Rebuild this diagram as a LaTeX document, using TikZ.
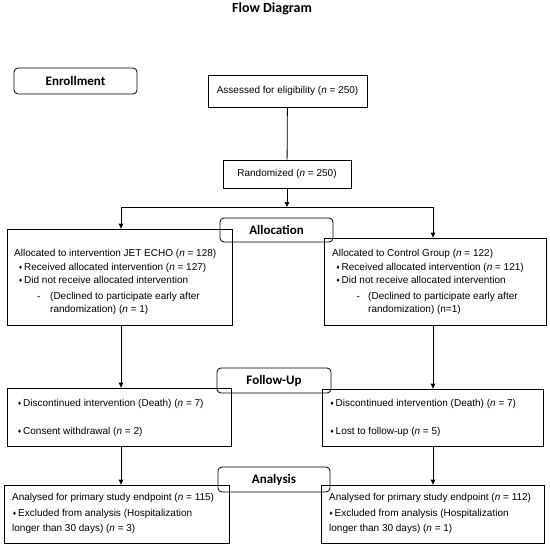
\documentclass[tikz,border=0pt]{standalone}
\usepackage{fontspec}
\setmainfont{Liberation Sans}
\newfontfamily\labfont{Carlito}
\newfontfamily\symfont{DejaVu Sans}
\usetikzlibrary{arrows.meta}
\newcommand\bul{\raisebox{1pt}{\fontsize{5}{5}\symfont ♦}}
\newcommand\bt{\makebox[7pt][c]{\bul}}
\begin{document}
\begin{tikzpicture}[x=1pt,y=-1pt,
  box/.style={draw,line width=0.8pt,inner sep=0pt,font=\fontsize{10}{12}\selectfont},
  lab/.style={draw,line width=0.8pt,rounded corners=4pt,inner sep=0pt,font=\labfont\bfseries\fontsize{13}{15}\selectfont},
  txt/.style={anchor=base west,inner sep=0pt,font=\fontsize{10}{12}\selectfont},
  arr/.style={line width=0.8pt,-{Triangle[length=5pt,width=4.5pt]}},
  con/.style={line width=0.8pt}]
\useasboundingbox (0,0) rectangle (550,546);
\node[font=\labfont\bfseries\fontsize{14}{16}\selectfont] (title) at (272,9) {Flow Diagram};
\node[lab,minimum width=123pt,minimum height=26pt] (enr) at (75.5,81) {Enrollment};
\node[box,minimum width=159pt,minimum height=32pt] (assess) at (287.5,91) {Assessed for eligibility (\textit{n} = 250)};
\node[box,minimum width=128pt,minimum height=28pt] (rand) at (287,174) {Randomized (\textit{n} = 250)};
\node[lab,minimum width=113pt,minimum height=24pt] (alloc) at (276.5,230) {Allocation};
\node[box,minimum width=225pt,minimum height=96pt] (lalloc) at (119.5,277) {};
\node[box,minimum width=222pt,minimum height=87pt] (ralloc) at (435,281.5) {};
\node[lab,minimum width=114pt,minimum height=25pt] (fu) at (274,380.5) {Follow-Up};
\node[box,minimum width=224pt,minimum height=58pt] (lfu) at (119,417) {};
\node[box,minimum width=221pt,minimum height=57pt] (rfu) at (432.5,417.5) {};
\node[lab,minimum width=112pt,minimum height=25pt] (ana) at (274,479.5) {Analysis};
\node[box,minimum width=225pt,minimum height=58pt] (lana) at (116.5,514) {};
\node[box,minimum width=223pt,minimum height=58pt] (rana) at (432.5,514) {};
% left allocation text
\node[txt] (la1) at (14,256) {Allocated to intervention JET ECHO (\textit{n} = 128)};
\node[txt] (la2) at (17,270) {\bt Received allocated intervention (\textit{n} = 127)};
\node[txt] (la3) at (17,283.5) {\bt Did not receive allocated intervention};
\node[txt] (la4) at (14,299.5) {\makebox[36pt][l]{\hspace*{23pt}-}(Declined to participate early after};
\node[txt] (la5) at (50,312) {randomization) (\textit{n} = 1)};
% right allocation text
\node[txt] (ra1) at (332,256) {Allocated to Control Group (\textit{n} = 122)};
\node[txt] (ra2) at (334.5,270) {\bt Received allocated intervention (\textit{n} = 121)};
\node[txt] (ra3) at (334.5,283.5) {\bt Did not receive allocated intervention};
\node[txt] (ra4) at (332,299.5) {\makebox[36pt][l]{\hspace*{24.5pt}-}(Declined to participate early after};
\node[txt] (ra5) at (368,312) {randomization) (n=1)};
% follow-up text
\node[txt] (lf1) at (16,406.5) {\bt Discontinued intervention (Death) (\textit{n} = 7)};
\node[txt] (lf2) at (16,434.5) {\bt Consent withdrawal (\textit{n} = 2)};
\node[txt] (rf1) at (328.5,406.5) {\bt Discontinued intervention (Death) (\textit{n} = 7)};
\node[txt] (rf2) at (328.5,434.5) {\bt Lost to follow-up (\textit{n} = 5)};
% analysis text
\node[txt] (ln1) at (12,500.6) {Analysed for primary study endpoint (\textit{n} = 115)};
\node[txt] (ln2) at (11,516.6) {\bt Excluded from analysis (Hospitalization};
\node[txt] (ln3) at (12,531.6) {longer than 30 days) (\textit{n} = 3)};
\node[txt] (rn1) at (329,500.6) {Analysed for primary study endpoint (\textit{n} = 112)};
\node[txt] (rn2) at (327.5,516.6) {\bt Excluded from analysis (Hospitalization};
\node[txt] (rn3) at (329,531.6) {longer than 30 days) (\textit{n} = 1)};
% connectors
\coordinate (split) at (287,207);
\coordinate (lsplit) at (121,207);
\coordinate (rsplit) at (433,207);
\draw[con] (assess) -- (rand);
\draw[arr] (rand) -- (split);
\draw[con] (lsplit) -- (rsplit);
\draw[arr] (lsplit) -- (lsplit |- lalloc.north);
\draw[arr] (rsplit) -- (rsplit |- ralloc.north);
\draw[arr] (lsplit |- lalloc.south) -- (lsplit |- lfu.north);
\draw[arr] (rsplit |- ralloc.south) -- (rsplit |- rfu.north);
\draw[arr] (lsplit |- lfu.south) -- (lsplit |- lana.north);
\draw[arr] (rsplit |- rfu.south) -- (rsplit |- rana.north);
\end{tikzpicture}
\end{document}
